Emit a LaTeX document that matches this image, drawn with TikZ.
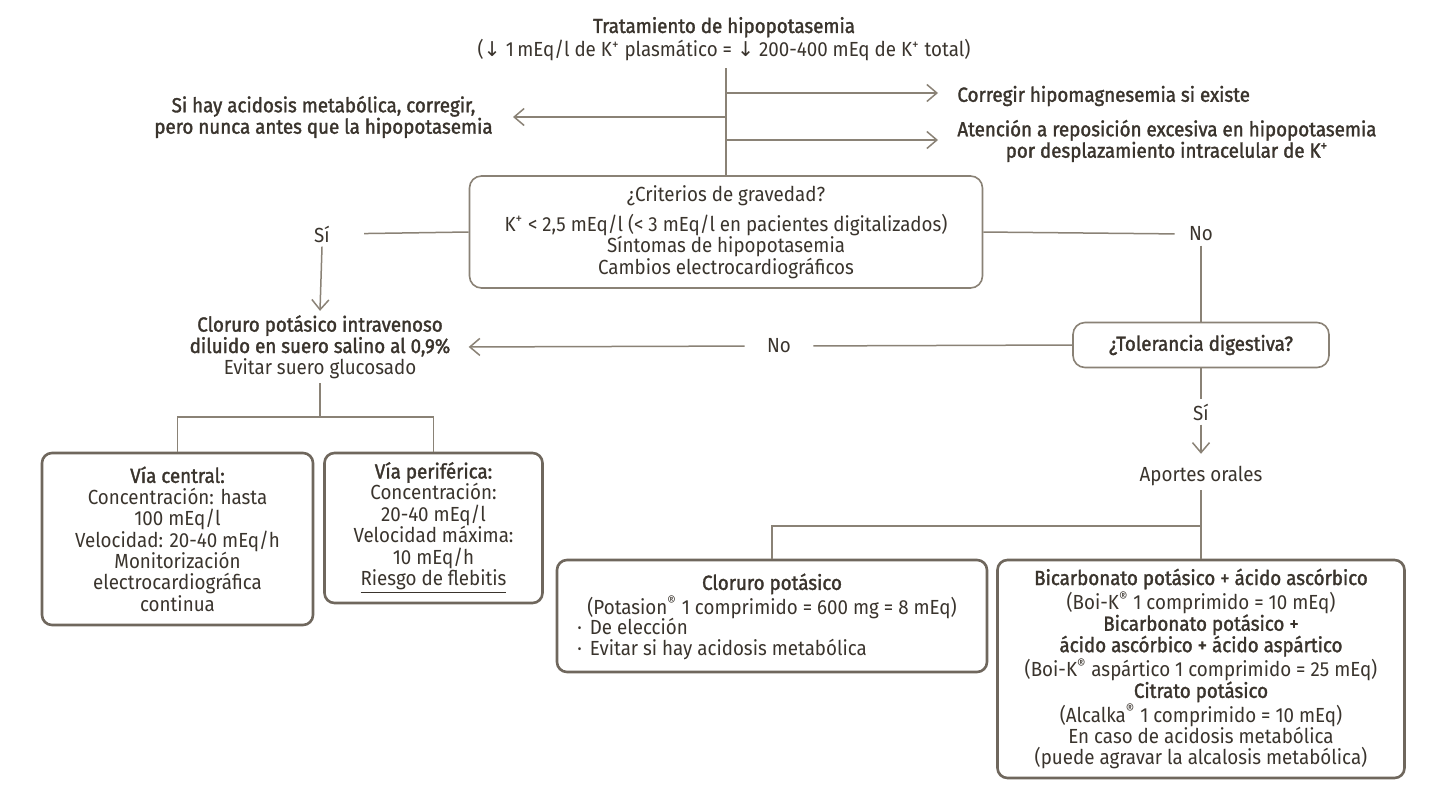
\documentclass[tikz,border=0pt]{standalone}
\usepackage{fontspec}
\setmainfont{Fira Sans}[FakeStretch=0.92, BoldFont={Fira Sans}, BoldFeatures={FakeBold=1.6}]
\newfontfamily\symf{DejaVu Sans}
\usetikzlibrary{arrows.meta}
\definecolor{txt}{HTML}{3A342D}
\definecolor{lnc}{HTML}{8A8276}
\definecolor{bxc}{HTML}{6F675D}
\begin{document}
\begin{tikzpicture}[x=0.5pt,y=-0.5pt,
  every node/.style={text=txt, font=\fontsize{10.2}{10.7}\selectfont},
  ln/.style={draw=lnc, line width=0.75pt},
  arr/.style={ln, -{Straight Barb[length=5pt,width=8.5pt]}},
  box/.style={draw=bxc, line width=1.3pt, rounded corners=5pt, align=center},
  tbox/.style={draw=lnc, line width=0.8pt, rounded corners=6pt, align=center},
  lbl/.style={align=center, inner sep=2pt}]
\fill[white] (0,0) rectangle (1436,794);
\useasboundingbox (0,0) rectangle (1436,794);

\node[lbl] (title) at (724,39) {\textbf{Tratamiento de hipopotasemia}\\({\symf↓} 1\,mEq/l de K\textsuperscript{+} plasmático = {\symf↓} 200-400 mEq de K\textsuperscript{+} total)};
\node[lbl, anchor=west] (corr) at (953,96) {\textbf{Corregir hipomagnesemia si existe}};
\node[lbl, anchor=east] (acid) at (497,117) {\textbf{Si hay acidosis metabólica, corregir,}\\\textbf{pero nunca antes que la hipopotasemia}};
\node[lbl, anchor=west] (aten) at (953,141) {\textbf{Atención a reposición excesiva en hipopotasemia}\\\textbf{por desplazamiento intracelular de K\textsuperscript{+}}};

\node[tbox, minimum width=256.5pt, minimum height=56pt] (crit) at (726,232) {¿Criterios de gravedad?\\[3pt] K\textsuperscript{+} < 2,5 mEq/l (< 3 mEq/l en pacientes digitalizados)\\Síntomas de hipopotasemia\\Cambios electrocardiográficos};

\node[lbl] (sil) at (322,234) {Sí};
\node[lbl] (nor) at (1201,234) {No};
\node[tbox, minimum width=128pt, minimum height=22.5pt] (tol) at (1201,345) {\textbf{¿Tolerancia digestiva?}};
\node[lbl] (nom) at (779,346) {No};
\node[lbl] (civ) at (320,347) {\textbf{Cloruro potásico intravenoso}\\\textbf{diluido en suero salino al 0,9\%}\\Evitar suero glucosado};
\node[lbl] (sir) at (1201,412) {Sí};
\node[lbl] (apo) at (1201,476) {Aportes orales};

\node[box, minimum width=135.5pt, minimum height=86pt] (vc) at (177.5,539) {\textbf{Vía central:}\\Concentración: hasta\\100 mEq/l\\Velocidad: 20-40 mEq/h\\Monitorización\\electrocardiográfica\\continua};
\node[box, minimum width=109pt, minimum height=75pt] (vp) at (433.5,528) {\textbf{Vía periférica:}\\Concentración:\\20-40 mEq/l\\Velocidad máxima:\\10 mEq/h\\\underline{Riesgo de flebitis}};

\node[box, minimum width=215pt, minimum height=56pt] (clb) at (772,616) {};
\node[lbl] (clt) at (772,596) {\textbf{Cloruro potásico}\\(Potasion\textsuperscript{®} 1 comprimido = 600 mg = 8 mEq)};
\node[lbl, anchor=west, align=left] (clu) at (573,639) {·\hspace{4pt}De elección\\·\hspace{4pt}Evitar si hay acidosis metabólica};

\node[box, minimum width=203.5pt, minimum height=109pt] (bib) at (1201,669) {\textbf{Bicarbonato potásico + ácido ascórbico}\\(Boi-K\textsuperscript{®} 1 comprimido = 10 mEq)\\\textbf{Bicarbonato potásico +}\\\textbf{ácido ascórbico + ácido aspártico}\\(Boi-K\textsuperscript{®} aspártico 1 comprimido = 25 mEq)\\\textbf{Citrato potásico}\\(Alcalka\textsuperscript{®} 1 comprimido = 10 mEq)\\En caso de acidosis metabólica\\(puede agravar la alcalosis metabólica)};

\coordinate (t0) at (726,68);
\coordinate (j1) at (726,93); \coordinate (e1) at (938,93);
\coordinate (j2) at (726,117); \coordinate (e2) at (513,117);
\coordinate (j3) at (726,140); \coordinate (e3) at (938,140);
\draw[ln] (t0) -- (crit.north);
\draw[arr] (j1) -- (e1);
\draw[arr] (j2) -- (e2);
\draw[arr] (j3) -- (e3);

\draw[ln, shorten >=15pt] (crit.west) -- (sil.east);
\draw[arr] (sil.south) -- (civ.north);
\draw[ln, shorten >=5pt] (crit.east) -- (nor.west);
\draw[ln] (nor.south) -- (tol.north);
\draw[ln, shorten >=9pt] (tol.west) -- (nom.east);
\draw[arr, shorten <=9pt, shorten >=7pt] (nom.west) -- (civ.east);
\draw[ln] (tol.south) -- (sir.north);
\draw[arr, shorten >=4pt] (sir.south) -- (apo.north);
\coordinate (s1) at (320,417);
\draw[ln] (civ.south) -- (s1);
\draw[ln] (vc.north) |- (s1) -| (vp.north);
\coordinate (s2) at (1201,526);
\draw[ln] (apo.south) -- (bib.north);
\draw[ln] (clb.north) |- (s2);
\end{tikzpicture}
\end{document}
